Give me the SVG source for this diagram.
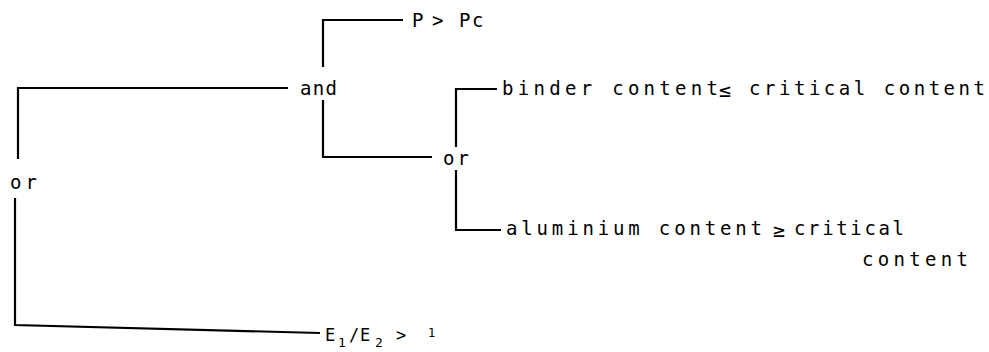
<svg xmlns="http://www.w3.org/2000/svg" width="989" height="352" viewBox="0 0 989 352">
<style>
.t{font-family:"DejaVu Sans Mono","Liberation Mono",monospace;font-size:19px;fill:#000}
.c{fill:none;stroke:#000;stroke-width:2.2;stroke-linejoin:miter;stroke-linecap:butt}
</style>
<rect width="989" height="352" fill="#fff"/>
<g id="connectors">
<polyline class="c" points="323,67 323,20 403,20"/>
<polyline class="c" points="288,88 18,88 18,159"/>
<polyline class="c" points="15,198 15,325 320,333"/>
<polyline class="c" points="323,100 323,157 432,157"/>
<polyline class="c" points="456,147 456,89 497,89"/>
<polyline class="c" points="456,170 456,230 501,230"/>
</g>
<g id="node-or-root"><text class="t" x="10" y="189" textLength="27" lengthAdjust="spacing">or</text></g>
<g id="node-and"><text class="t" x="300" y="95" textLength="37" lengthAdjust="spacing">and</text></g>
<g id="node-p"><text class="t" x="412 432 459 472" y="27">P&gt;Pc</text></g>
<g id="node-or-mid"><text class="t" x="443" y="165" textLength="26" lengthAdjust="spacing">or</text></g>
<g id="node-binder">
<text class="t" x="502" y="95" textLength="216" lengthAdjust="spacing">binder content</text>
<text class="t" x="719" y="97" style="font-size:20px">≤</text>
<text class="t" x="749" y="95" textLength="236" lengthAdjust="spacing">critical content</text>
</g>
<g id="node-aluminium">
<text class="t" x="506" y="235" textLength="256" lengthAdjust="spacing">aluminium content</text>
<text class="t" x="773" y="237" style="font-size:20px">≥</text>
<text class="t" x="794" y="235" textLength="110" lengthAdjust="spacing">critical</text>
<text class="t" x="862" y="266" textLength="106" lengthAdjust="spacing">content</text>
</g>
<g id="node-e">
<text class="t" y="341" style="font-size:17px"><tspan x="325">E</tspan><tspan x="338" y="347" style="font-size:13px">1</tspan><tspan x="349" y="341">/</tspan><tspan x="360">E</tspan><tspan x="375" y="347" style="font-size:13px">2</tspan><tspan x="396" y="341">&gt;</tspan><tspan x="428" y="337" style="font-size:12px">1</tspan></text>
</g>
</svg>
